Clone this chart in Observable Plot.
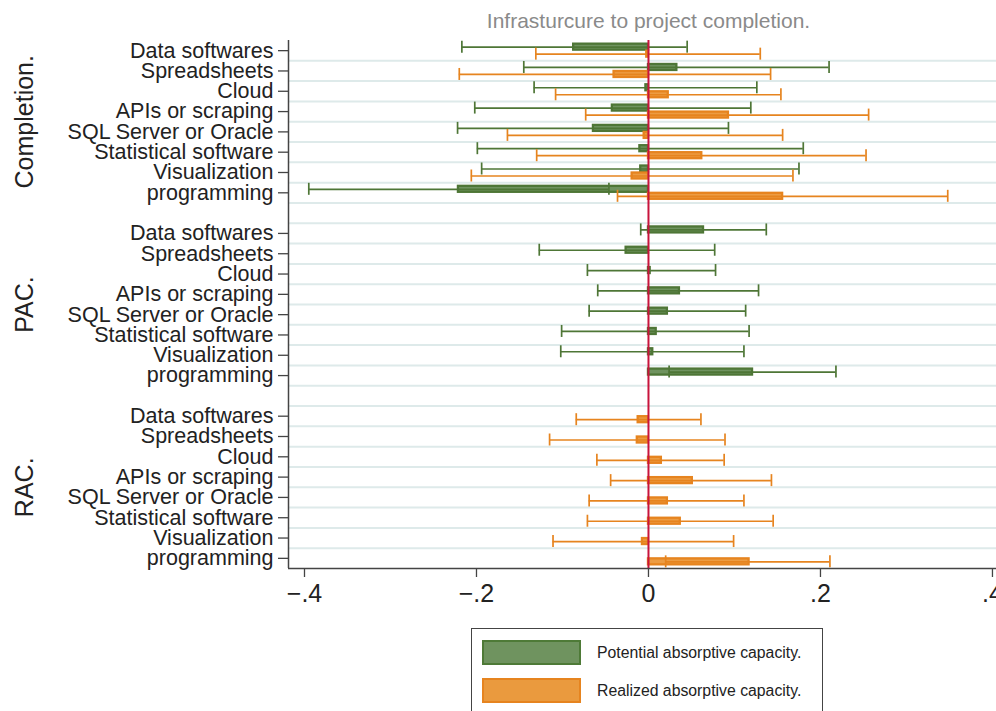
<!DOCTYPE html>
<html>
<head>
<meta charset="utf-8">
<script src="https://cdn.jsdelivr.net/npm/d3@7"></script>
<script src="https://cdn.jsdelivr.net/npm/@observablehq/plot@0.6"></script>
<style>
  html, body { margin: 0; padding: 0; background: #fff; overflow: hidden; }
  body { width: 996px; height: 711px; font-family: "Liberation Sans", Arial, sans-serif; }
  #legend {
    margin-left: 471px; margin-top: 16px; width: 352px; height: 90px;
    border: 1px solid #444; box-sizing: border-box; position: relative;
  }
  .item { position: absolute; left: 10px; display: flex; align-items: center; }
  .sw { width: 95px; height: 21px; box-sizing: content-box; }
  .lab { margin-left: 16px; font-size: 15.8px; color: #222; }
</style>
</head>
<body>
<div id="chart"></div>
<div id="legend">
  <div class="item" style="top:11px"><div class="sw" style="background:#6f935f;border:2px solid #4e7a37"></div><span class="lab">Potential absorptive capacity.</span></div>
  <div class="item" style="top:49px"><div class="sw" style="background:#ea9a3e;border:2px solid #e6841f"></div><span class="lab">Realized absorptive capacity.</span></div>
</div>
<script>
// Row labels, repeated in each of the three panels
const rows = ["Data softwares", "Spreadsheets", "Cloud", "APIs or scraping",
  "SQL Server or Oracle", "Statistical software", "Visualization", "programming"];
const groups = ["Completion.", "PAC.", "RAC."];
const title = "Infrasturcure to project completion.";
const xTicks = [-0.4, -0.2, 0, 0.2, 0.4];

// Completion panel: potential (PAC) and realized (RAC) absorptive capacity
const compPotEst = [-0.087, 0.033, -0.003, -0.042, -0.064, -0.010, -0.009, -0.221];
const compPotLo  = [-0.217, -0.145, -0.133, -0.202, -0.222, -0.199, -0.194, -0.395];
const compPotHi  = [0.045, 0.210, 0.126, 0.119, 0.093, 0.180, 0.175, -0.046];
const compRealEst = [-0.002, -0.040, 0.023, 0.093, -0.005, 0.062, -0.019, 0.156];
const compRealLo  = [-0.131, -0.220, -0.108, -0.073, -0.164, -0.130, -0.206, -0.036];
const compRealHi  = [0.130, 0.142, 0.154, 0.256, 0.156, 0.253, 0.168, 0.348];

// PAC panel (potential only)
const pacEst = [0.064, -0.026, 0.002, 0.036, 0.022, 0.009, 0.005, 0.121];
const pacLo  = [-0.009, -0.127, -0.071, -0.059, -0.069, -0.101, -0.102, 0.024];
const pacHi  = [0.137, 0.077, 0.078, 0.128, 0.113, 0.117, 0.111, 0.218];

// RAC panel (realized only)
const racEst = [-0.012, -0.013, 0.015, 0.051, 0.022, 0.037, -0.007, 0.117];
const racLo  = [-0.084, -0.115, -0.060, -0.044, -0.069, -0.071, -0.111, 0.020];
const racHi  = [0.061, 0.089, 0.088, 0.143, 0.111, 0.145, 0.099, 0.211];

// Layout
const W = 996, H = 612, mTop = 40, mBottom = 44, mLeft = 288;
const nSlots = 26;                       // 3 panels x 8 rows + 2 spacer rows
const slotPx = (H - mTop - mBottom) / nSlots;
const px = v => v / slotPx;              // pixels -> row units
const xMin = -0.4186, xMax = 0.4047;

const colors = {
  pot:  {line: "#4e7636", fill: "#6f935f"},
  real: {line: "#e6841f", fill: "#ec9c43"}
};

// Long table of estimates
const table = [];
function add(g, series, est, lo, hi) {
  rows.forEach((r, i) => {
    const pos = g * 9 + i;
    const c = pos + (series === "pot" ? -px(3.5) : px(3.5));
    table.push({pos, c, series, est: est[i], lo: lo[i], hi: hi[i]});
  });
}
add(0, "pot", compPotEst, compPotLo, compPotHi);
add(0, "real", compRealEst, compRealLo, compRealHi);
add(1, "pot", pacEst, pacLo, pacHi);
add(2, "real", racEst, racLo, racHi);

const tickPos = [];
groups.forEach((g, gi) => rows.forEach((r, i) => tickPos.push(gi * 9 + i)));
const groupCenters = groups.map((name, gi) => ({name, pos: gi * 9 + 3.5}));
const gridPos = d3.range(nSlots - 1).map(k => k + 0.5);

const fmt = d => d === 0 ? "0" : (d < 0 ? "\u2212" : "") + String(Math.abs(d)).replace(/^0/, "");

const chart = Plot.plot({
  width: W, height: H,
  marginTop: mTop, marginBottom: mBottom, marginLeft: mLeft, marginRight: 0,
  style: {fontFamily: "'Liberation Sans', Arial, sans-serif", background: "#fff"},
  x: {domain: [xMin, xMax]},
  y: {domain: [-0.5, nSlots - 0.5], reverse: true},
  marks: [
    Plot.ruleY(gridPos, {stroke: "#deeaea", strokeWidth: 2}),
    // coefficient bars from zero
    Plot.rect(table, {
      x1: 0, x2: "est",
      y1: d => d.c - px(3), y2: d => d.c + px(3),
      fill: d => colors[d.series].fill, stroke: d => colors[d.series].line, strokeWidth: 2.3
    }),
    // confidence intervals with caps
    Plot.ruleY(table, {y: "c", x1: "lo", x2: "hi", stroke: d => colors[d.series].line, strokeWidth: 1.7}),
    Plot.ruleX(table, {x: "lo", y1: d => d.c - px(6), y2: d => d.c + px(6), stroke: d => colors[d.series].line, strokeWidth: 1.7}),
    Plot.ruleX(table, {x: "hi", y1: d => d.c - px(6), y2: d => d.c + px(6), stroke: d => colors[d.series].line, strokeWidth: 1.7}),
    // zero reference line
    Plot.ruleX([0], {stroke: "#c8143c", strokeWidth: 2}),
    // axis lines
    Plot.ruleX([xMin], {stroke: "#444", strokeWidth: 1.5}),
    Plot.ruleY([nSlots - 0.5], {stroke: "#444", strokeWidth: 1.5}),
    Plot.axisY({
      ticks: tickPos, tickFormat: p => rows[p % 9], tickSize: 10, tickPadding: 5,
      fontSize: 21.5, fill: "#222", stroke: "#444", strokeWidth: 1.3, label: null
    }),
    Plot.axisX({
      ticks: xTicks, tickFormat: fmt, tickSize: 9, tickPadding: 7,
      fontSize: 25, fill: "#222", stroke: "#444", strokeWidth: 1.3, label: null
    }),
    // panel labels
    Plot.text(groupCenters, {
      y: "pos", text: "name", frameAnchor: "left", dx: -264, rotate: -90,
      textAnchor: "middle", lineAnchor: "middle", fontSize: 25, fill: "#222"
    }),
    // title
    Plot.text([title], {
      frameAnchor: "top", dx: 6, dy: -19, lineAnchor: "middle",
      fontSize: 21, fill: "#8a8a8a"
    })
  ]
});
document.getElementById("chart").appendChild(chart);
</script>
</body>
</html>
